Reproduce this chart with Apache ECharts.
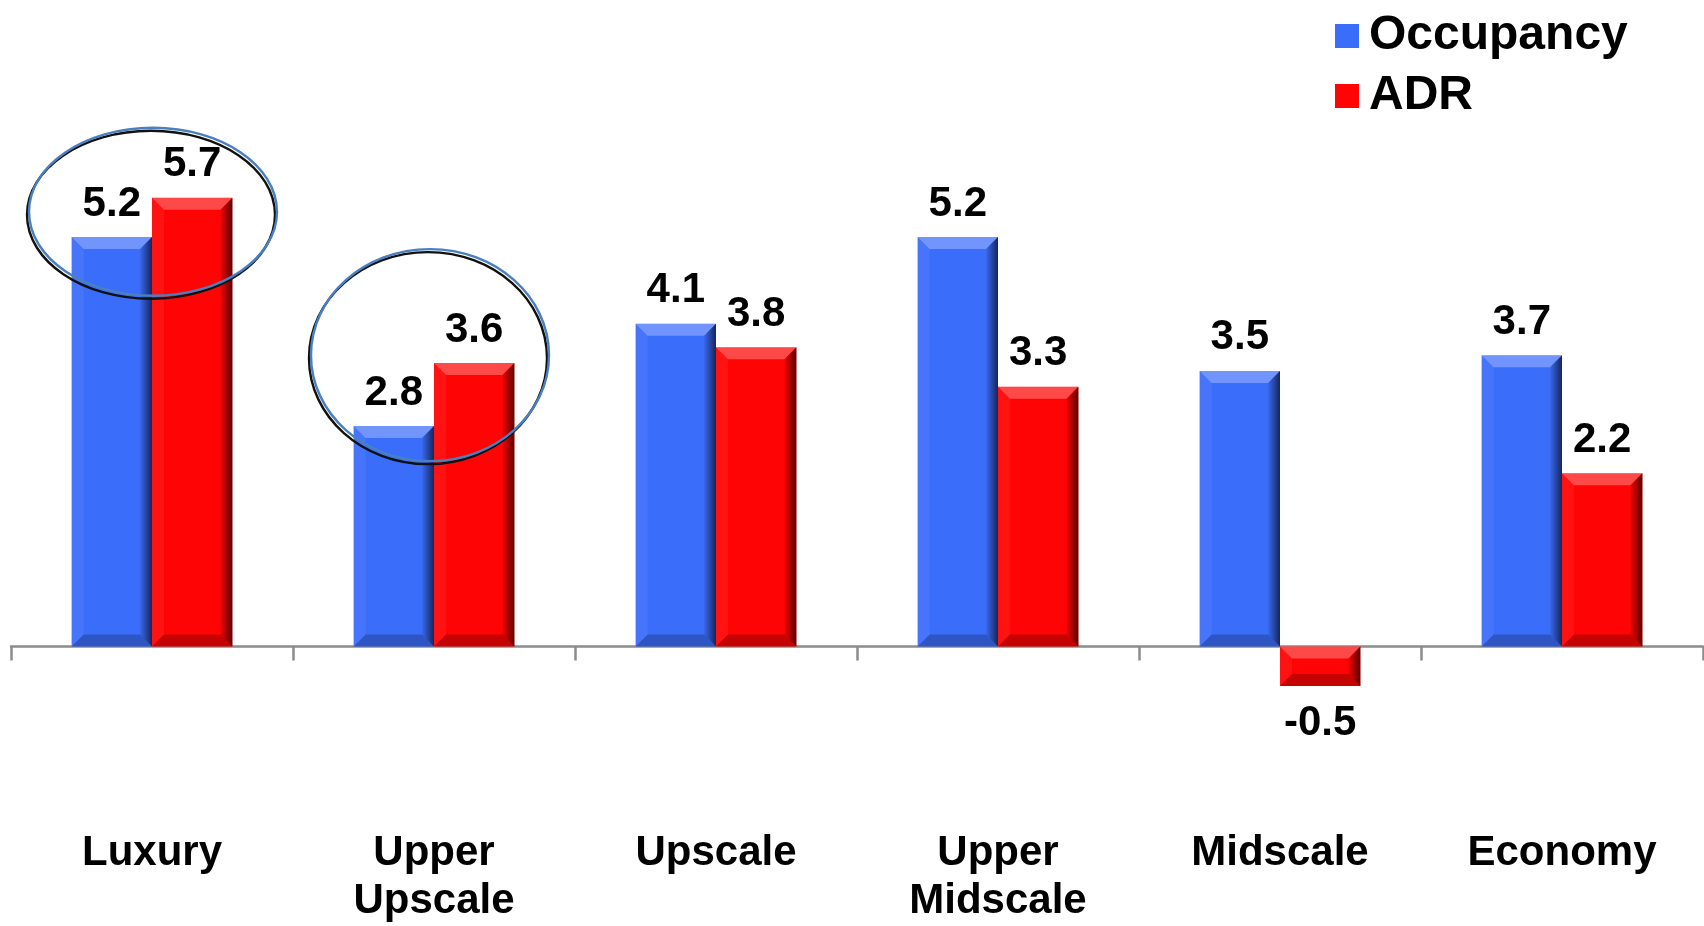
<!DOCTYPE html>
<html>
<head>
<meta charset="utf-8">
<script src="https://cdn.jsdelivr.net/npm/echarts@6/dist/echarts.min.js"></script>
<style>
  html, body { margin: 0; padding: 0; background: #ffffff; }
  #chart { width: 1704px; height: 926px; }
</style>
</head>
<body>
<div id="chart"></div>
<script>
// Percent change by hotel class segment
const categories = ['Luxury', 'Upper\nUpscale', 'Upscale', 'Upper\nMidscale', 'Midscale', 'Economy'];
const occupancy = [5.2, 2.8, 4.1, 5.2, 3.5, 3.7];
const adr = [5.7, 3.6, 3.8, 3.3, -0.5, 2.2];

const FONT = "'Liberation Sans', Arial, sans-serif";
const BAR_RATIO = 0.285;   // bar width as share of a category band
const BEVEL = 12;

const chart = echarts.init(document.getElementById('chart'), null, { renderer: 'canvas' });

function labelled(values) {
  return values.map(v => v < 0
    ? { value: v, label: { position: 'bottom', distance: 17 } }
    : v);
}

// Bevel highlights drawn on top of each bar (slot 0 = left bar, 1 = right bar)
function bevelRenderer(slot) {
  return function (params, api) {
    const cat = api.value(0);
    const val = api.value(1);
    const base = api.coord([cat, 0]);
    const end = api.coord([cat, val]);
    const bw = api.size([1, 0])[0] * BAR_RATIO;
    const x0 = slot === 0 ? base[0] - bw : base[0];
    const x1 = x0 + bw;
    const yT = Math.min(base[1], end[1]);
    const yB = Math.max(base[1], end[1]);
    const b = Math.min(BEVEL, (yB - yT) / 2, bw / 2);
    return {
      type: 'group',
      children: [
        { type: 'polygon', silent: true,
          shape: { points: [[x0, yT], [x1, yT], [x1 - b, yT + b], [x0 + b, yT + b]] },
          style: { fill: 'rgba(255,255,255,0.28)' } },
        { type: 'polygon', silent: true,
          shape: { points: [[x0, yT], [x0 + b, yT + b], [x0 + b, yB - b], [x0, yB]] },
          style: { fill: 'rgba(255,255,255,0.06)' } },
        { type: 'polygon', silent: true,
          shape: { points: [[x1, yT], [x1, yB], [x1 - b, yB - b], [x1 - b, yT + b]] },
          style: { fill: new echarts.graphic.LinearGradient(0, 0, 1, 0, [
            { offset: 0, color: 'rgba(0,0,0,0.05)' },
            { offset: 1, color: 'rgba(0,0,0,0.65)' }
          ]) } },
        { type: 'polygon', silent: true,
          shape: { points: [[x0, yB], [x1, yB], [x1 - b, yB - b], [x0 + b, yB - b]] },
          style: { fill: 'rgba(0,0,0,0.22)' } }
      ]
    };
  };
}

const valueLabel = {
  show: true,
  position: 'top',
  distance: 12,
  color: '#000',
  fontFamily: FONT,
  fontWeight: 'bold',
  fontSize: 42,
  formatter: p => p.value.toFixed(1)
};

// The plot area ends at the zero line; the one negative bar hangs below it.
chart.setOption({
  animation: false,
  backgroundColor: '#ffffff',
  grid: {
    left: 11, top: 95.25, width: 1692, height: 551.25,
    containLabel: false
  },
  legend: {
    data: ['Occupancy', 'ADR'],
    orient: 'vertical',
    left: 1330,
    top: 6,
    itemWidth: 24,
    itemHeight: 24,
    itemGap: 10,
    icon: 'rect',
    textStyle: {
      fontFamily: FONT, fontWeight: 'bold', fontSize: 48, color: '#000',
      lineHeight: 50, padding: [0, 0, 0, 5]
    }
  },
  xAxis: {
    type: 'category',
    data: categories,
    axisLine: { onZero: false, lineStyle: { color: '#8c8c8c', width: 2.5 } },
    axisTick: { show: true, alignWithLabel: false, length: 14, lineStyle: { color: '#8c8c8c', width: 2.5 } },
    axisLabel: {
      show: true,
      margin: 183,
      color: '#000',
      fontFamily: FONT,
      fontWeight: 'bold',
      fontSize: 42,
      lineHeight: 48,
      interval: 0
    },
    splitLine: { show: false }
  },
  yAxis: {
    type: 'value',
    min: 0,
    max: 7,
    show: false,
    splitLine: { show: false }
  },
  series: [
    {
      name: 'Occupancy', type: 'bar', data: labelled(occupancy), clip: false,
      barWidth: (BAR_RATIO * 100) + '%', barGap: '0%',
      itemStyle: { color: '#3b6dfb' },
      label: valueLabel, z: 2
    },
    {
      name: 'ADR', type: 'bar', data: labelled(adr), clip: false,
      barWidth: (BAR_RATIO * 100) + '%', barGap: '0%',
      itemStyle: { color: '#fe0404' },
      label: valueLabel, z: 2
    },
    {
      name: 'occBevel', type: 'custom', silent: true, z: 3, clip: false,
      renderItem: bevelRenderer(0),
      data: occupancy.map((v, i) => [i, v]),
      encode: { x: 0, y: 1 }
    },
    {
      name: 'adrBevel', type: 'custom', silent: true, z: 3, clip: false,
      renderItem: bevelRenderer(1),
      data: adr.map((v, i) => [i, v]),
      encode: { x: 0, y: 1 }
    }
  ]
});

// Callout rings around the top two segments
const rings = [
  { cat: 0, level: 5.52, dx: 1, rx: 124, ry: 84 },
  { cat: 1, level: 3.70, dx: -4, rx: 119, ry: 106 }
];
const ringGraphics = [];
rings.forEach(r => {
  const p = chart.convertToPixel({ xAxisIndex: 0, yAxisIndex: 0 }, [r.cat, r.level]);
  const cx = p[0] + r.dx, cy = p[1];
  ringGraphics.push({
    type: 'ellipse', silent: true, z: 10,
    shape: { cx: cx - 2, cy: cy + 3, rx: r.rx, ry: r.ry },
    style: { fill: 'none', stroke: '#111', lineWidth: 2.4 }
  });
  ringGraphics.push({
    type: 'ellipse', silent: true, z: 11,
    shape: { cx: cx, cy: cy, rx: r.rx, ry: r.ry },
    style: { fill: 'none', stroke: '#4a7fc0', lineWidth: 2.4 }
  });
});
chart.setOption({ graphic: ringGraphics });
</script>
</body>
</html>
